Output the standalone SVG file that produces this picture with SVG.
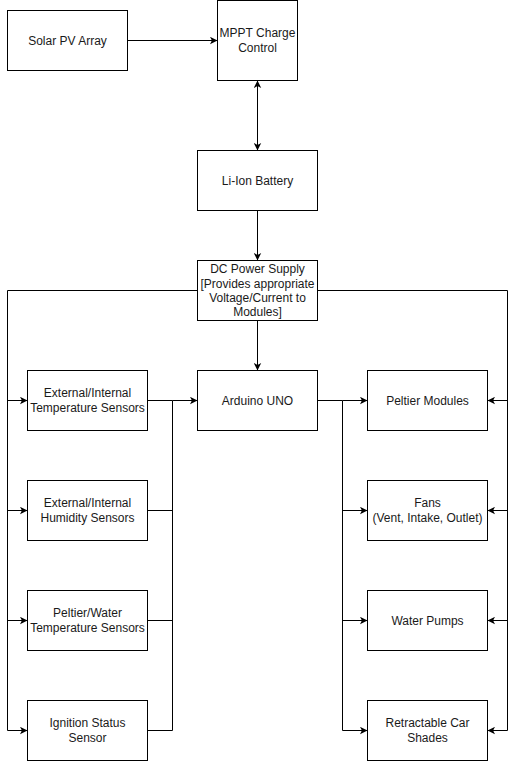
<svg xmlns="http://www.w3.org/2000/svg" width="516" height="761" viewBox="0 0 516 761">
<style>
.box{fill:#fff;stroke:#000;stroke-width:1}
.t{font-family:"Liberation Sans",Arial,sans-serif;font-size:12px;fill:#1a1a1a;text-anchor:middle}
.c{fill:none;stroke:#000;stroke-width:1}
</style>
<defs>
<marker id="arr" viewBox="0 0 8 8" refX="8" refY="4" markerWidth="8" markerHeight="8" markerUnits="userSpaceOnUse" orient="auto-start-reverse">
<path d="M8,4 L0.5,0.3 L2.4,4 L0.5,7.7 Z" fill="#000"/>
</marker>
</defs>
<rect width="516" height="761" fill="#fff"/>
<g id="connectors">
<path class="c" d="M127.5,40.5 H217.5" marker-end="url(#arr)"/>
<path class="c" d="M257.5,80.5 V150.5" marker-start="url(#arr)" marker-end="url(#arr)"/>
<path class="c" d="M257.5,210.5 V260.5" marker-end="url(#arr)"/>
<path class="c" d="M257.5,320.5 V370.5" marker-end="url(#arr)"/>
<path class="c" d="M197.5,290.5 H7.5 V730.5"/>
<path class="c" d="M7.5,400.5 H27.5" marker-end="url(#arr)"/>
<path class="c" d="M7.5,510.5 H27.5" marker-end="url(#arr)"/>
<path class="c" d="M7.5,620.5 H27.5" marker-end="url(#arr)"/>
<path class="c" d="M7.5,730.5 H27.5" marker-end="url(#arr)"/>
<path class="c" d="M317.5,290.5 H507.5 V730.5"/>
<path class="c" d="M507.5,400.5 H487.5" marker-end="url(#arr)"/>
<path class="c" d="M507.5,510.5 H487.5" marker-end="url(#arr)"/>
<path class="c" d="M507.5,620.5 H487.5" marker-end="url(#arr)"/>
<path class="c" d="M507.5,730.5 H487.5" marker-end="url(#arr)"/>
<path class="c" d="M147.5,510.5 H172.5 M147.5,620.5 H172.5 M147.5,730.5 H172.5 V400.5 M147.5,400.5 H172.5"/>
<path class="c" d="M172.5,400.5 H197.5" marker-end="url(#arr)"/>
<path class="c" d="M317.5,400.5 H342.5 V730.5"/>
<path class="c" d="M342.5,400.5 H367.5" marker-end="url(#arr)"/>
<path class="c" d="M342.5,510.5 H367.5" marker-end="url(#arr)"/>
<path class="c" d="M342.5,620.5 H367.5" marker-end="url(#arr)"/>
<path class="c" d="M342.5,730.5 H367.5" marker-end="url(#arr)"/>
</g>
<g id="solar"><rect class="box" x="7.5" y="10.5" width="120" height="60"/><text class="t" x="67.5" y="44.5">Solar PV Array</text></g>
<g id="mppt"><rect class="box" x="217.5" y="0.5" width="80" height="80"/><text class="t" x="257.5" y="37">MPPT Charge</text><text class="t" x="257.5" y="52">Control</text></g>
<g id="battery"><rect class="box" x="197.5" y="150.5" width="120" height="60"/><text class="t" x="257.5" y="184.5">Li-Ion Battery</text></g>
<g id="dcps"><rect class="box" x="197.5" y="260.5" width="120" height="60"/><text class="t" x="257.5" y="273">DC Power Supply</text><text class="t" x="257.5" y="287.5">[Provides appropriate</text><text class="t" x="257.5" y="302">Voltage/Current to</text><text class="t" x="257.5" y="316">Modules]</text></g>
<g id="arduino"><rect class="box" x="197.5" y="370.5" width="120" height="60"/><text class="t" x="257.5" y="404.5">Arduino UNO</text></g>
<g id="tempsens"><rect class="box" x="27.5" y="370.5" width="120" height="60"/><text class="t" x="87.5" y="397">External/Internal</text><text class="t" x="87.5" y="412">Temperature Sensors</text></g>
<g id="humsens"><rect class="box" x="27.5" y="480.5" width="120" height="60"/><text class="t" x="87.5" y="507">External/Internal</text><text class="t" x="87.5" y="522">Humidity Sensors</text></g>
<g id="peltsens"><rect class="box" x="27.5" y="590.5" width="120" height="60"/><text class="t" x="87.5" y="617">Peltier/Water</text><text class="t" x="87.5" y="632">Temperature Sensors</text></g>
<g id="ignition"><rect class="box" x="27.5" y="700.5" width="120" height="60"/><text class="t" x="87.5" y="727">Ignition Status</text><text class="t" x="87.5" y="742">Sensor</text></g>
<g id="peltier"><rect class="box" x="367.5" y="370.5" width="120" height="60"/><text class="t" x="427.5" y="404.5">Peltier Modules</text></g>
<g id="fans"><rect class="box" x="367.5" y="480.5" width="120" height="60"/><text class="t" x="427.5" y="507">Fans</text><text class="t" x="427.5" y="522">(Vent, Intake, Outlet)</text></g>
<g id="pumps"><rect class="box" x="367.5" y="590.5" width="120" height="60"/><text class="t" x="427.5" y="624.5">Water Pumps</text></g>
<g id="shades"><rect class="box" x="367.5" y="700.5" width="120" height="60"/><text class="t" x="427.5" y="727">Retractable Car</text><text class="t" x="427.5" y="742">Shades</text></g>
</svg>
